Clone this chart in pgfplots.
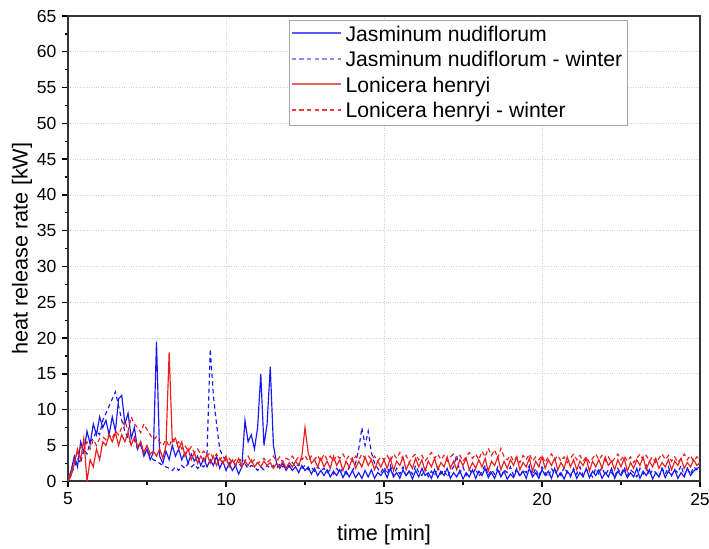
\documentclass[border=0pt]{standalone}
\usepackage{pgfplots}
\pgfplotsset{compat=1.18}
\usepackage{pgfplotstable}
\usepackage{fontspec}
\setmainfont{Liberation Sans}
\definecolor{cblue}{RGB}{25,25,245}
\definecolor{cred}{RGB}{235,30,30}
\definecolor{lblueA}{RGB}{90,90,245}
\definecolor{lblueB}{RGB}{140,140,245}
\definecolor{lredA}{RGB}{232,95,95}
\definecolor{lredB}{RGB}{235,60,60}
\pgfplotstableread{
t JN JW LH LW
5.0 0.2 0.3 0.0 0.5
5.1 1.5 1.0 0.8 1.2
5.2 3.5 2.0 2.5 2.8
5.3 2.0 3.2 4.5 4.0
5.4 5.5 2.5 3.0 4.8
5.5 4.0 4.5 6.0 4.2
5.6 7.0 3.8 0.0 5.5
5.7 5.2 5.5 3.0 4.5
5.8 8.0 6.0 2.0 5.8
5.9 6.5 7.0 4.5 5.0
6.0 9.0 6.5 3.0 6.0
6.1 7.5 8.5 5.5 6.2
6.2 8.5 9.5 5.0 5.8
6.3 6.5 10.5 6.5 6.5
6.4 9.0 11.5 5.5 6.0
6.5 7.0 12.5 6.8 7.0
6.6 11.5 10.5 5.0 6.5
6.7 12.0 8.5 6.5 7.5
6.8 8.0 7.0 5.5 8.5
6.9 9.5 6.0 6.8 7.0
7.0 6.0 5.2 5.0 9.0
7.1 7.5 5.8 6.2 8.0
7.2 4.5 4.5 4.8 7.5
7.3 5.5 5.0 5.5 6.8
7.4 3.5 3.8 4.0 8.0
7.5 4.5 4.2 5.0 7.2
7.6 3.0 3.5 3.8 6.5
7.7 4.0 3.0 4.2 5.8
7.8 19.5 2.8 3.5 6.2
7.9 3.5 2.5 4.5 5.5
8.0 2.5 2.2 3.2 5.0
8.1 4.2 2.0 5.0 5.8
8.2 3.0 1.8 18.0 4.8
8.3 5.0 1.5 5.5 6.0
8.4 3.5 2.0 6.0 5.2
8.5 4.5 1.5 4.5 5.5
8.6 3.0 2.2 5.5 4.5
8.7 4.0 1.8 3.5 5.0
8.8 2.5 2.5 4.5 4.2
8.9 3.8 2.0 3.0 4.8
9.0 2.8 2.4 4.0 4.0
9.1 3.5 1.8 2.5 4.5
9.2 2.2 2.2 3.5 3.8
9.3 3.2 2.0 2.8 4.2
9.4 2.0 4.0 3.8 3.5
9.5 3.0 18.5 2.5 4.0
9.6 2.2 12.0 3.5 3.2
9.7 3.5 8.0 2.2 3.8
9.8 1.8 4.5 3.2 3.0
9.9 2.8 3.5 2.5 3.5
10.0 1.5 3.0 3.5 2.8
10.1 2.5 2.5 2.0 3.2
10.2 1.5 2.8 3.0 2.5
10.3 2.2 2.2 2.2 3.0
10.4 1.0 2.5 3.2 2.6
10.5 2.0 2.0 2.0 3.2
10.6 8.5 2.4 2.8 2.8
10.7 5.5 1.8 2.2 3.5
10.8 6.5 2.2 3.0 2.6
10.9 4.5 2.0 2.0 3.0
11.0 7.5 1.5 2.6 2.5
11.1 15.0 2.0 2.0 2.8
11.2 5.0 1.6 2.8 3.2
11.3 8.0 2.2 2.2 2.6
11.4 16.0 1.8 2.6 3.0
11.5 5.0 2.2 1.8 3.5
11.6 2.5 1.8 2.5 2.8
11.7 1.8 2.4 2.0 3.4
11.8 2.5 2.0 2.8 2.6
11.9 1.5 2.5 1.8 3.2
12.0 2.2 2.0 2.6 3.0
12.1 1.5 2.6 2.0 3.5
12.2 2.0 2.0 2.8 2.8
12.3 1.2 2.4 2.2 3.4
12.4 2.2 1.8 3.5 3.0
12.5 1.5 2.2 7.5 3.6
12.6 2.0 1.6 4.0 2.8
12.7 1.0 2.0 2.5 3.5
12.8 1.8 1.4 3.0 3.0
12.9 0.8 2.0 2.0 3.6
13.0 1.5 1.5 3.2 2.8
13.1 0.8 1.8 2.0 3.8
13.2 1.6 1.2 2.8 3.0
13.3 0.6 1.6 1.8 3.5
13.4 1.4 1.0 3.5 2.8
13.5 0.8 1.8 2.2 3.6
13.6 1.6 1.2 3.0 3.2
13.7 0.5 1.8 1.5 3.8
13.8 1.4 1.0 2.8 3.0
13.9 0.6 2.0 2.0 3.6
14.0 1.5 1.4 3.2 2.8
14.1 0.5 2.5 1.8 3.5
14.2 1.2 4.5 2.8 3.0
14.3 0.4 7.5 2.0 3.8
14.4 1.5 5.0 3.4 3.2
14.5 0.6 7.0 2.2 3.6
14.6 1.6 4.0 3.0 3.0
14.7 0.4 2.5 1.6 3.5
14.8 1.2 1.8 2.8 2.8
14.9 0.8 1.2 2.0 3.4
15.0 1.5 2.0 3.0 3.0
15.1 0.5 1.0 1.8 3.6
15.2 1.8 2.2 3.2 2.8
15.3 0.6 0.8 1.5 3.8
15.4 1.2 1.8 2.8 3.2
15.5 0.4 1.0 2.2 4.0
15.6 1.6 2.0 3.4 3.0
15.7 0.8 0.6 1.6 3.6
15.8 1.4 1.6 2.6 2.6
15.9 0.3 1.0 1.8 3.4
16.0 1.5 2.2 3.2 3.8
16.1 0.6 1.2 2.0 3.0
16.2 1.8 0.8 3.0 3.6
16.3 0.8 1.8 1.4 2.8
16.4 1.2 0.6 2.8 3.4
16.5 0.4 1.4 2.0 4.0
16.6 1.6 0.8 3.2 3.2
16.7 0.5 2.0 1.6 3.8
16.8 1.4 1.0 2.6 3.0
16.9 0.8 1.6 2.0 3.6
17.0 1.8 0.6 3.4 2.8
17.1 0.4 1.4 1.8 3.4
17.2 1.2 2.0 2.8 3.8
17.3 0.6 3.6 1.6 3.0
17.4 1.5 1.2 3.0 3.6
17.5 0.3 2.0 2.2 2.8
17.6 1.2 0.8 3.2 3.4
17.7 0.6 1.6 1.6 4.0
17.8 1.6 1.0 2.6 3.2
17.9 0.4 1.8 1.8 3.8
18.0 1.4 0.6 3.0 3.0
18.1 0.8 1.4 2.0 4.2
18.2 1.8 2.2 3.2 3.4
18.3 0.5 0.8 1.4 4.6
18.4 1.2 1.6 2.8 3.6
18.5 0.4 1.0 2.2 4.4
18.6 1.6 2.0 3.4 3.2
18.7 0.6 0.6 1.6 4.6
18.8 1.4 1.6 2.8 3.4
18.9 0.3 1.2 1.8 3.0
19.0 1.0 2.0 3.0 3.6
19.1 0.5 0.8 2.2 2.8
19.2 1.6 1.8 3.4 3.4
19.3 0.8 0.6 1.6 2.6
19.4 1.4 1.6 2.6 3.6
19.5 0.4 1.2 2.0 3.0
19.6 1.8 2.2 3.2 3.8
19.7 0.6 0.8 1.4 2.8
19.8 1.2 1.8 2.8 3.4
19.9 0.4 0.6 2.0 3.0
20.0 1.6 2.0 3.4 3.6
20.1 0.8 1.2 1.8 2.6
20.2 1.4 0.6 3.0 3.4
20.3 0.4 1.8 2.2 3.8
20.4 1.8 1.0 3.2 3.0
20.5 0.6 1.6 1.6 3.6
20.6 1.2 0.8 2.6 2.8
20.7 0.3 2.0 1.8 3.4
20.8 1.4 1.2 3.4 2.6
20.9 0.8 0.6 2.0 3.2
21.0 1.6 1.8 3.0 3.8
21.1 0.4 1.0 1.6 3.0
21.2 1.2 2.0 2.8 3.6
21.3 0.6 0.8 2.2 2.8
21.4 1.8 1.6 3.2 3.4
21.5 0.5 1.2 1.4 2.6
21.6 1.4 0.6 2.8 3.2
21.7 0.8 1.8 2.0 3.8
21.8 1.6 1.0 3.0 3.0
21.9 0.4 2.0 1.8 3.6
22.0 1.2 0.8 3.4 2.8
22.1 0.6 1.6 2.2 3.4
22.2 1.8 1.2 2.8 2.6
22.3 0.4 0.6 1.6 3.2
22.4 1.4 1.8 3.0 3.8
22.5 0.8 1.0 2.0 3.0
22.6 1.6 2.0 3.2 3.6
22.7 0.5 0.8 1.4 2.8
22.8 1.2 1.6 2.6 3.4
22.9 0.6 1.2 1.8 2.6
23.0 1.8 0.6 3.0 3.2
23.1 0.4 1.8 2.2 3.8
23.2 1.4 1.0 3.4 3.0
23.3 0.8 2.2 1.6 3.6
23.4 1.6 0.8 2.8 2.8
23.5 0.3 1.6 2.0 3.4
23.6 1.2 1.2 3.2 2.6
23.7 0.6 0.6 1.8 3.2
23.8 1.8 1.8 2.6 3.8
23.9 0.5 1.0 2.0 3.0
24.0 1.4 2.0 3.0 3.6
24.1 0.8 0.8 1.6 2.8
24.2 1.6 1.6 2.8 3.4
24.3 0.4 1.2 2.2 2.6
24.4 1.2 2.2 3.2 3.2
24.5 0.6 0.8 1.8 3.8
24.6 1.8 1.8 2.6 3.0
24.7 0.8 1.0 2.0 3.6
24.8 1.4 2.0 3.0 2.8
24.9 1.8 1.6 2.2 3.4
25.0 2.0 2.2 2.6 3.0
}\hrr
\begin{document}
\begin{tikzpicture}
\begin{axis}[
  name=ax,
  scale only axis,
  width=379pt, height=279pt,
  xmin=5, xmax=25, ymin=0, ymax=65,
  xtick={5,10,...,25}, ytick={0,5,...,65},
  minor x tick num=1, minor y tick num=1,
  tick align=outside,
  xtick pos=left, ytick pos=left,
  major tick length=3.5pt, minor tick length=2pt,
  tick style={black, line width=0.8pt},
  axis line style={black!80, line width=1.1pt},
  grid=major,
  major grid style={densely dotted, gray!35, line width=0.5pt},
  /pgf/number format/assume math mode=true,
  tick label style={font=\fontsize{10.5}{12}\selectfont},
  xticklabel style={inner xsep=0.5pt},
  label style={font=\fontsize{13}{15}\selectfont},
  xlabel={time [min]},
  ylabel={heat release rate [kW]},
  xlabel style={yshift=-5pt},
  ylabel style={yshift=-4pt},
  legend cell align=left,
  legend image code/.code={\draw[#1, line width=1pt] (0cm,0.03cm) -- (1.05cm,0.03cm);},
  legend style={at={(0.349,0.991)}, anchor=north west, draw=gray!70, line width=0.6pt,
    font=\fontsize{12.7}{14.2}\selectfont, inner sep=1pt, row sep=0.6pt},
]
\addplot[cblue, line width=0.7pt, legend image post style={draw=lblueA}] table[x=t, y=JN] {\hrr};
\addlegendentry{Jasminum nudiflorum}
\addplot[cblue, line width=0.7pt, dash pattern=on 2.6pt off 2pt, legend image post style={draw=lblueB}] table[x=t, y=JW] {\hrr};
\addlegendentry{Jasminum nudiflorum - winter}
\addplot[cred, line width=0.7pt, legend image post style={draw=lredA}] table[x=t, y=LH] {\hrr};
\addlegendentry{Lonicera henryi}
\addplot[cred, line width=0.7pt, dash pattern=on 2.6pt off 2pt, legend image post style={draw=lredB}] table[x=t, y=LW] {\hrr};
\addlegendentry{Lonicera henryi - winter}
\end{axis}
\pgfresetboundingbox
\path ([xshift=-40.8pt,yshift=-40.2pt]ax.south west) rectangle ([xshift=5.4pt,yshift=9.6pt]ax.north east);
\end{tikzpicture}
\end{document}
